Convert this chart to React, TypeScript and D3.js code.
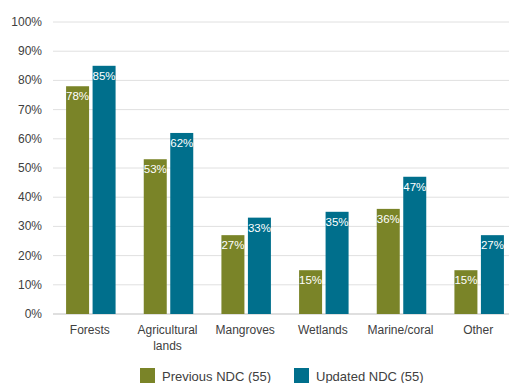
import React from "react";
import * as d3 from "d3";

const categories = ["Forests", "Agricultural lands", "Mangroves", "Wetlands", "Marine/coral", "Other"];
const previousNDC = [78, 53, 27, 15, 36, 15];
const updatedNDC = [85, 62, 33, 35, 47, 27];
const seriesNames = ["Previous NDC (55)", "Updated NDC (55)"];
const yTicks = [0, 10, 20, 30, 40, 50, 60, 70, 80, 90, 100];

const colors = ["#7a8428", "#006f8c"];
const W = 509, H = 383;
const font = "Liberation Sans, Arial, sans-serif";

export default function App() {
  const x = d3.scaleBand<string>().domain(categories).range([52, 518]);
  const y = d3.scaleLinear().domain([0, 100]).range([314, 22]);
  const barW = 23, gap = 3.5;
  const series = [previousNDC, updatedNDC];
  const wrap = (c: string) => (c === "Agricultural lands" ? ["Agricultural", "lands"] : [c]);
  return (
    <svg width={W} height={H} style={{ position: "absolute", left: 0, top: 0 }} fontFamily={font}>
      <rect width={W} height={H} fill="#fff" />
      {yTicks.map((t) => (
        <g key={t}>
          <line x1={53} x2={W} y1={y(t)} y2={y(t)} stroke={t === 0 ? "#bfbfbf" : "#e0e0e0"} strokeWidth={1} />
          <text x={42} y={y(t) + 4} textAnchor="end" fontSize={12} fill="#404040">{t}%</text>
        </g>
      ))}
      {categories.map((c, i) => {
        const cx = (x(c) as number) + x.bandwidth() / 2;
        return (
          <g key={c}>
            {series.map((s, j) => {
              const bx = cx - barW - gap / 2 + j * (barW + gap);
              return (
                <g key={j}>
                  <rect x={bx} y={y(s[i])} width={barW} height={y(0) - y(s[i])} fill={colors[j]} />
                  <text x={bx + barW / 2} y={y(s[i]) + 14} textAnchor="middle" fontSize={11.5} fill="#fff">{s[i]}%</text>
                </g>
              );
            })}
            {wrap(c).map((l, k) => (
              <text key={k} x={cx - 1} y={334 + k * 16} textAnchor="middle" fontSize={12} fill="#404040">{l}</text>
            ))}
          </g>
        );
      })}
      {seriesNames.map((n, j) => {
        const lx = j === 0 ? 140 : 294;
        return (
          <g key={n}>
            <rect x={lx} y={368} width={15} height={15} fill={colors[j]} />
            <text x={lx + 22} y={381} fontSize={13} fill="#404040">{n}</text>
          </g>
        );
      })}
    </svg>
  );
}
